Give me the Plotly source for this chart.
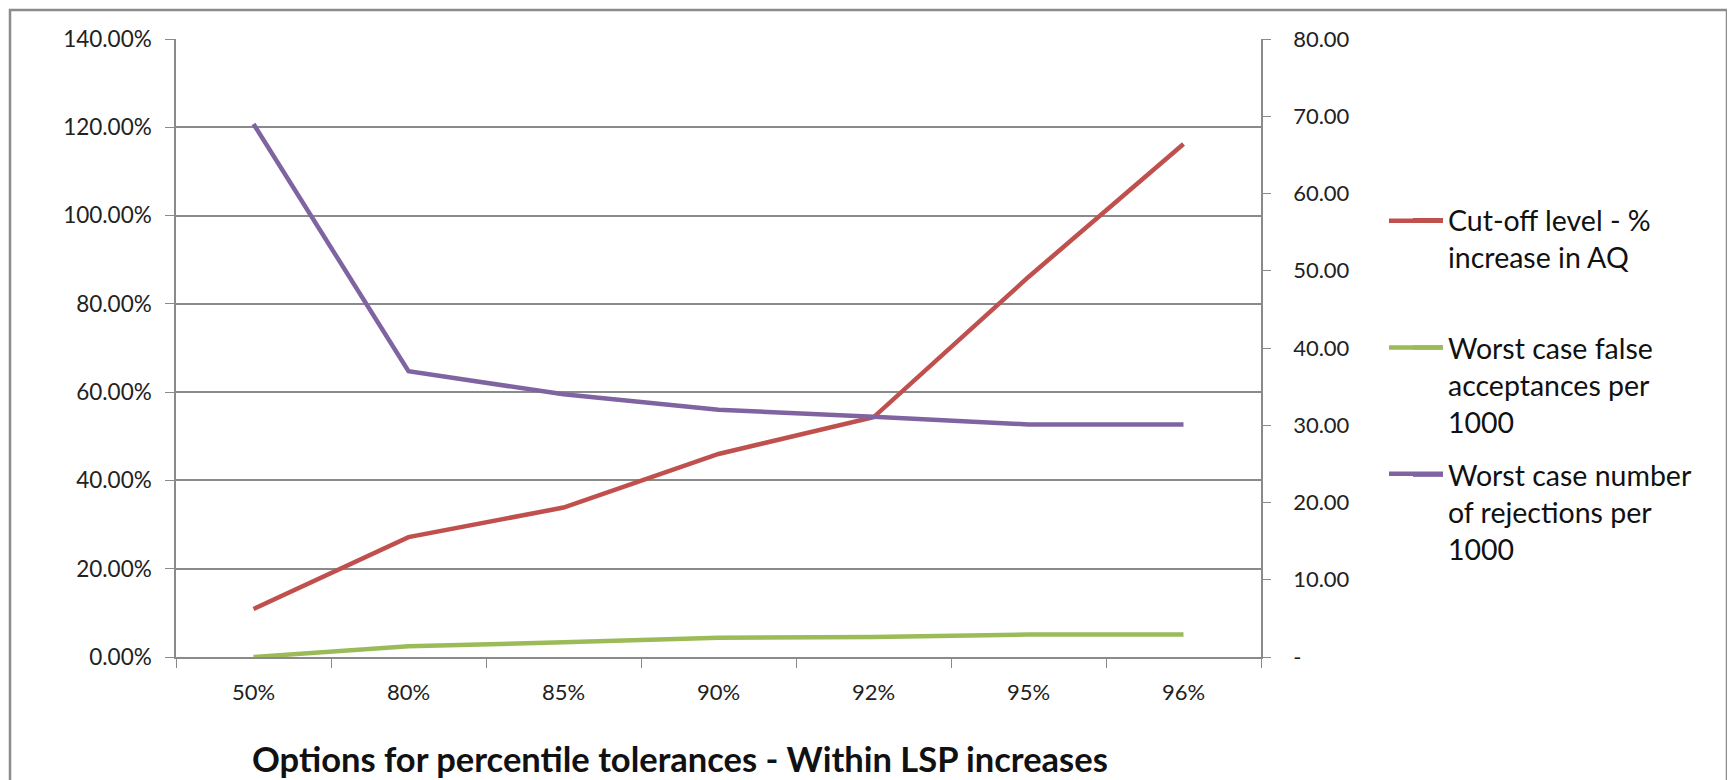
import plotly.graph_objects as go

categories = ["50%", "80%", "85%", "90%", "92%", "95%", "96%"]
cutoff_pct = [0.1086, 0.2716, 0.3386, 0.4600, 0.5430, 0.8610, 1.1620]
false_accept = [0.0, 1.4, 1.9, 2.5, 2.6, 2.9, 2.9]
rejections = [69.0, 37.0, 34.0, 32.0, 31.1, 30.1, 30.1]

left_ticks = [0, 0.2, 0.4, 0.6, 0.8, 1.0, 1.2, 1.4]
right_ticks = [0, 10, 20, 30, 40, 50, 60, 70, 80]
right_labels = ["-", "10.00", "20.00", "30.00", "40.00", "50.00", "60.00", "70.00", "80.00"]

names = ["Cut-off level - %<br>increase in AQ<br> ",
         "Worst case false<br>acceptances per<br>1000",
         "Worst case number<br>of rejections per<br>1000"]
colors = ["#C0504D", "#9BBB59", "#8064A2"]

FONT = "Lato"
GRID = "#8a8a8a"

# the page body has an 8px margin: work in reference pixels and shift
OFF = 8
W, H = 1735 - OFF, 780 - OFF
L, R, T, B = 176 - OFF, 1261 - OFF, 38.5 - OFF, 657.3 - OFF
PW, PH = R - L, B - T

def px_x(p):
    return (p - OFF - L) / PW

def px_y(p):
    return (B - (p - OFF)) / PH

fig = go.Figure()
fig.add_trace(go.Scatter(x=categories, y=cutoff_pct, name=names[0], mode="lines",
                         line=dict(color=colors[0], width=4.5), yaxis="y",
                         legendgroup="g0"))
fig.add_trace(go.Scatter(x=categories, y=false_accept, name=names[1], mode="lines",
                         line=dict(color=colors[1], width=4.5), yaxis="y2",
                         legendgroup="g1"))
fig.add_trace(go.Scatter(x=categories, y=rejections, name=names[2], mode="lines",
                         line=dict(color=colors[2], width=4.5), yaxis="y2",
                         legendgroup="g2"))

fig.update_layout(
    width=W, height=H,
    margin=dict(l=L, r=W - R, t=T, b=H - B, autoexpand=False),
    paper_bgcolor="white", plot_bgcolor="white",
    font=dict(family=FONT, size=22, color="#222222"),
    xaxis=dict(type="category", range=[-0.5, 6.5], tickson="boundaries",
               ticks="outside", ticklen=9, tickcolor=GRID, showline=True,
               linecolor=GRID, linewidth=1.5, showgrid=False, zeroline=False,
               ticklabelstandoff=15, tickfont=dict(size=22)),
    yaxis=dict(range=[0, 1.4], tickvals=left_ticks, tickformat=".2%",
               showgrid=True, gridcolor=GRID, gridwidth=1.5, showline=True,
               linecolor=GRID, linewidth=1.5, ticks="outside", ticklen=9,
               tickcolor=GRID, zeroline=False, ticklabelstandoff=9,
               tickfont=dict(size=22.5)),
    yaxis2=dict(range=[0, 80], tickvals=right_ticks, ticktext=right_labels,
                overlaying="y", side="right", showgrid=False, showline=True,
                linecolor=GRID, linewidth=1.5, ticks="outside", ticklen=8,
                tickcolor=GRID, zeroline=False, ticklabelstandoff=18,
                tickfont=dict(size=22)),
    legend=dict(x=px_x(1408), y=px_y(195), xanchor="left", yanchor="top",
                font=dict(size=28.5, family=FONT, color="#111111"),
                valign="top", tracegroupgap=13, traceorder="grouped",
                bgcolor="rgba(0,0,0,0)"),
    showlegend=True,
)

fig.add_annotation(text="<b>Options for percentile tolerances - Within LSP increases</b>",
                   xref="paper", yref="paper", x=px_x(250), y=px_y(759),
                   xanchor="left", yanchor="middle", showarrow=False,
                   font=dict(size=34.5, family=FONT, color="#111111"))

# lengthen the legend line samples to match the reference's longer keys
for col, ly in zip(colors, [220.5, 347.3, 473.8]):
    fig.add_shape(type="line", xref="paper", yref="paper",
                  x0=px_x(1389), x1=px_x(1443), y0=px_y(ly), y1=px_y(ly),
                  line=dict(color=col, width=4.5), layer="above")

fig.add_shape(type="rect", xref="paper", yref="paper",
              x0=px_x(10), x1=px_x(1727), y0=px_y(800), y1=px_y(9.5),
              line=dict(color="#8c8c8c", width=2.5), fillcolor="rgba(0,0,0,0)",
              layer="below")

fig.write_html("out.html")
